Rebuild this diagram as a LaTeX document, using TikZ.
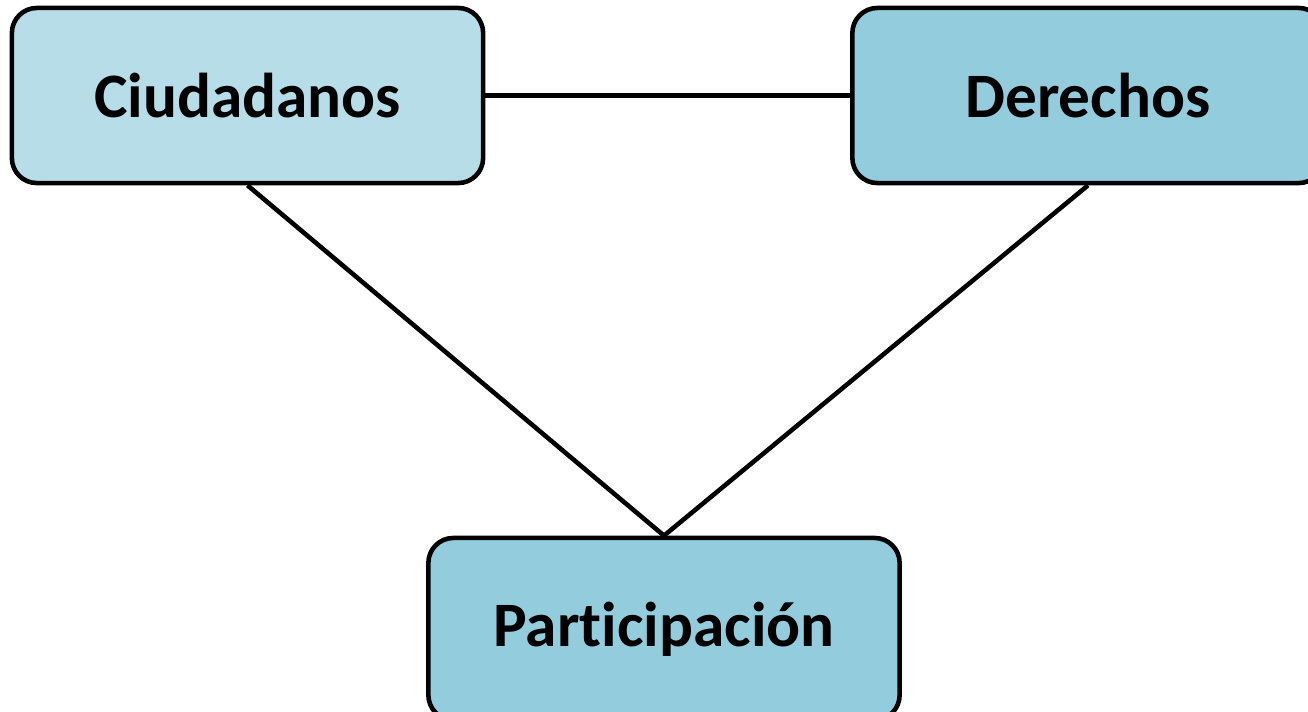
\documentclass[tikz,border=0pt]{standalone}
\usepackage{fontspec}
\setmainfont{Carlito}[Ligatures=NoCommon]
\usepackage{tikz}
\usetikzlibrary{positioning}

\definecolor{lightcyan}{HTML}{B7DEE8}
\definecolor{midcyan}{HTML}{93CDDD}

\begin{document}
\begin{tikzpicture}[x=0.01cm,y=-0.01cm,line width=1.3pt,
         main node/.style={rectangle,rounded corners=0.25cm,draw,fill=midcyan,
           minimum width=4.71cm,minimum height=1.75cm,inner sep=0pt,
           font=\fontsize{18pt}{22pt}\selectfont\bfseries}]

     \useasboundingbox (0,0) rectangle (1308,711);

     \node[main node,fill=lightcyan] (C) at (247.5,95.5) {Ciudadanos};
     \node[main node] (D) at (1088,95.5) {Derechos};
     \node[main node,minimum height=1.82cm] (P) at (664,629) {Participación};

     \draw (C) -- (D);
     \draw (C.south) -- (P.north);
     \draw (D.south) -- (P.north);
 \end{tikzpicture}
\end{document}
